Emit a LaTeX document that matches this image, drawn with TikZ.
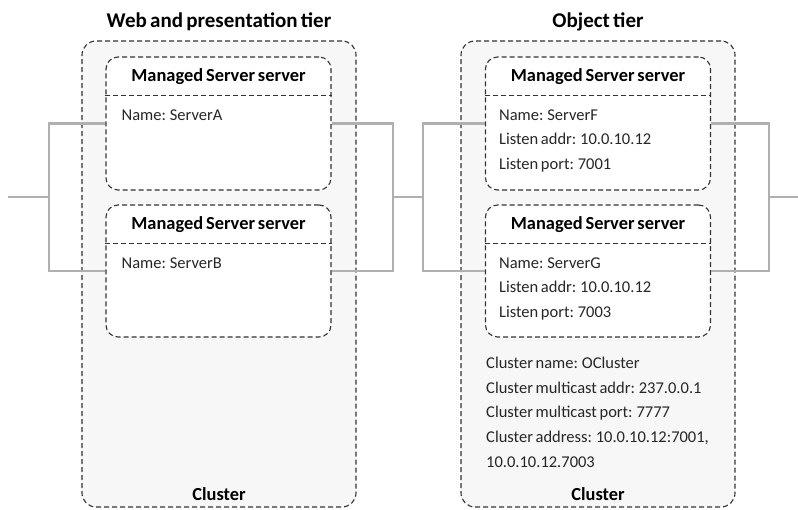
\documentclass[tikz,border=0pt]{standalone}
\usepackage{fontspec}
\setmainfont[WordSpace=0.7]{Carlito}
\usetikzlibrary{positioning,calc}
\definecolor{clfill}{HTML}{F7F7F7}
\definecolor{busgray}{HTML}{B0B0B0}
\definecolor{dashgray}{HTML}{333333}

\begin{document}
\begin{tikzpicture}[x=1pt,y=-1pt,
    cluster/.style={draw=dashgray, line width=1.1pt, dash pattern=on 5pt off 3pt, fill=clfill,
        rounded corners=14pt, minimum width=274pt, minimum height=466pt, inner sep=0pt},
    server/.style={draw=dashgray, line width=1.1pt, dash pattern=on 5pt off 3pt, fill=white,
        rounded corners=12pt, minimum width=225pt, minimum height=133pt, inner sep=0pt},
    sep/.style={draw=dashgray, line width=1.1pt, dash pattern=on 5pt off 3pt},
    tier/.style={font=\bfseries\fontsize{21}{25}\selectfont},
    hdr/.style={font=\bfseries\fontsize{18.4}{22}\selectfont},
    body/.style={anchor=north west, align=left, inner sep=0pt, text=black!85,
        font=\fontsize{16.5}{24.6}\selectfont},
    bus/.style={draw=busgray, line width=2.4pt}]
\useasboundingbox (0,0) rectangle (798,510);

% clusters
\node[cluster] (cW) at (219,274) {};
\node[cluster] (cO) at (598,274) {};
\node[tier] (tW) at (219,22) {Web and presentation tier};
\node[tier] (tO) at (598,22) {Object tier};
\node[hdr] (kW) at (219,494) {Cluster};
\node[hdr] (kO) at (598,494) {Cluster};

% bus lines
\coordinate (bL) at (49,197);
\coordinate (lEnd) at (8,197);
\coordinate (bM1) at (393,197);
\coordinate (bM2) at (423,197);
\coordinate (bR) at (769,197);
\coordinate (rEnd) at (798,197);

% servers
\node[server] (sA) at (218.5,123.5) {};
\node[server, minimum height=132pt] (sB) at (218.5,271) {};
\node[server] (sF) at (598,123.5) {};
\node[server, minimum height=132pt] (sG) at (598,271) {};
\foreach \s in {sA,sB,sF,sG} {
    \draw[sep] ($(\s.north west)+(0,39)$) -- ($(\s.north east)+(0,39)$);
    \node[hdr] (\s-hdr) at ($(\s.north)+(0,20)$) {Managed Server server};
}

\node[body] (nA) at ($(sA.north west)+(16,53)$) {Name: ServerA};
\node[body] (nB) at ($(sB.north west)+(16,53)$) {Name: ServerB};
\node[body] (nF) at ($(sF.north west)+(14,53)$) {Name: ServerF\\Listen addr: 10.0.10.12\\Listen port: 7001};
\node[body] (nG) at ($(sG.north west)+(14,53)$) {Name: ServerG\\Listen addr: 10.0.10.12\\Listen port: 7003};
\node[body] (info) at (486,357) {Cluster name: OCluster\\Cluster multicast addr: 237.0.0.1\\
    Cluster multicast port: 7777\\Cluster address: 10.0.10.12:7001,\\10.0.10.12.7003};

\draw[bus] (lEnd) -- (bL);
\draw[bus] (sA.west) -- (sA.west -| bL) -- (sB.west -| bL) -- (sB.west);
\draw[bus] (sA.east) -- (sA.east -| bM1) -- (sB.east -| bM1) -- (sB.east);
\draw[bus] (bM1) -- (bM2);
\draw[bus] (sF.west) -- (sF.west -| bM2) -- (sG.west -| bM2) -- (sG.west);
\draw[bus] (sF.east) -- (sF.east -| bR) -- (sG.east -| bR) -- (sG.east);
\draw[bus] (bR) -- (rEnd);
\end{tikzpicture}
\end{document}
